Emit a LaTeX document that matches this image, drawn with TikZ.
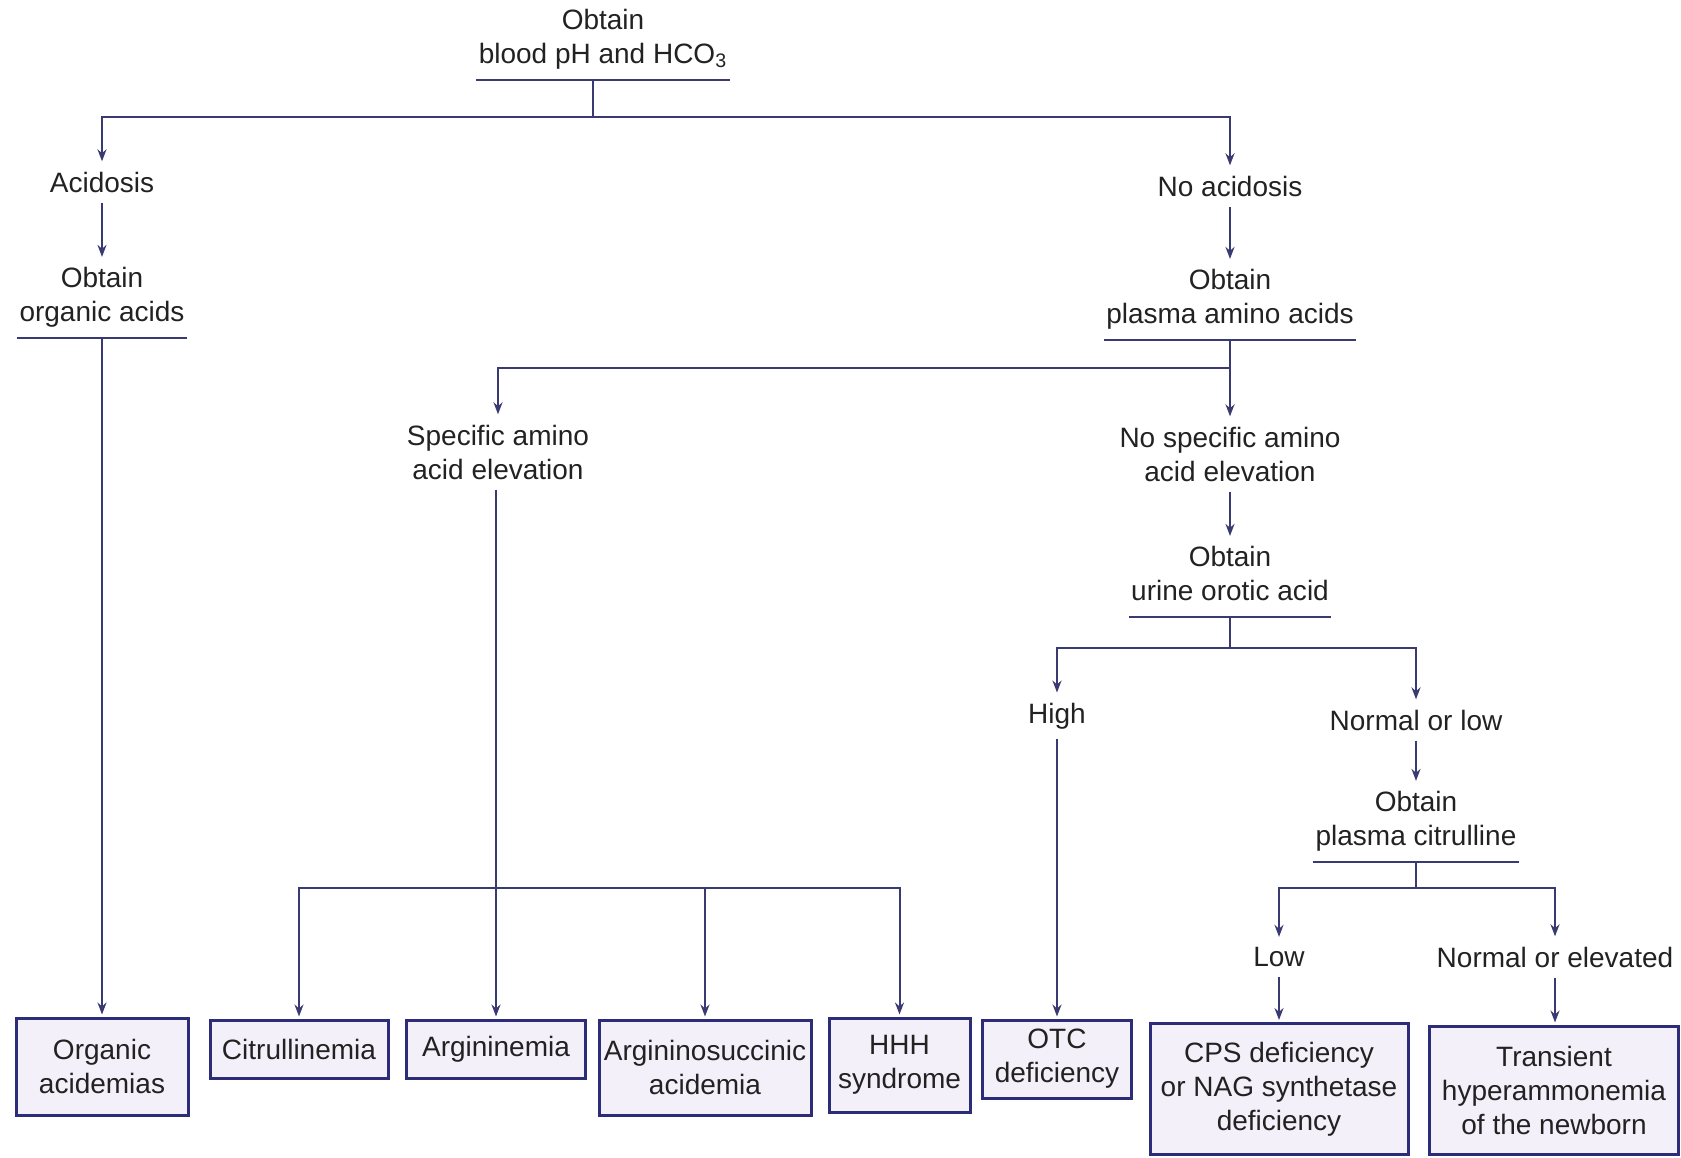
\documentclass[tikz,border=0pt]{standalone}
\usepackage{fontspec}
\setmainfont{Liberation Sans}
\usetikzlibrary{arrows.meta,calc}
\definecolor{linec}{HTML}{3A3A72}
\definecolor{boxc}{HTML}{2C2C78}
\definecolor{boxfill}{HTML}{F4F0F9}
\definecolor{txt}{HTML}{222222}
\tikzset{
  lbl/.style={font=\fontsize{14pt}{17pt}\selectfont, text=txt, align=center, inner sep=5pt},
  test/.style={lbl, anchor=south, inner xsep=1pt, inner ysep=5pt, text depth=3pt},
  ulin/.style={draw=linec, line width=1pt},
  link/.style={draw=linec, line width=1pt},
  arr/.style={link, -{Stealth[length=6pt,width=4.5pt]}},
  endbox/.style={lbl, draw=boxc, line width=1.5pt, fill=boxfill, inner sep=2pt},
}
\newcommand{\testnode}[3]{%
  \node[test] (#1) at #2 {#3};
  \draw[ulin] (#1.south west) -- (#1.south east);}
\begin{document}
\begin{tikzpicture}[x=0.5pt,y=-0.5pt]
\useasboundingbox (0,0) rectangle (1681,1157);

% question nodes with underlines
\testnode{top}{(603,80)}{Obtain\\blood pH and HCO\textsubscript{3}}
\testnode{obOA}{(102,338)}{Obtain\\organic acids}
\testnode{obPA}{(1230,340)}{Obtain\\plasma amino acids}
\testnode{obUO}{(1230,617)}{Obtain\\urine orotic acid}
\testnode{obPC}{(1416,862)}{Obtain\\plasma citrulline}

% findings
\node[lbl] (acid)  at (102,182)  {Acidosis};
\node[lbl] (noac)  at (1230,186) {No acidosis};
\node[lbl] (spec)  at (498,452)  {Specific amino\\acid elevation};
\node[lbl] (nspec) at (1230,454) {No specific amino\\acid elevation};
\node[lbl] (high)  at (1057,716) {High};
\node[lbl] (nlow)  at (1416,720) {Normal or low};
\node[lbl] (low)   at (1279,957) {Low};
\node[lbl] (nel)   at (1555,957) {Normal or elevated};

% diagnoses
\node[endbox, minimum width=86pt,  minimum height=48.5pt] (org) at (102,1066.5)  {Organic\\acidemias};
\node[endbox, minimum width=89pt,  minimum height=29pt]   (cit) at (299,1049)    {Citrullinemia};
\node[endbox, minimum width=89.5pt,minimum height=29pt]   (arg) at (496,1049)    {Argininemia};
\node[endbox, minimum width=106pt, minimum height=47.5pt] (asa) at (705,1067.5)  {Argininosuccinic\\acidemia};
\node[endbox, minimum width=70.5pt,minimum height=47pt]   (hhh) at (899.5,1065)  {HHH\\syndrome};
\node[endbox, minimum width=74.5pt,minimum height=39pt]   (otc) at (1057,1059)   {OTC\\deficiency};
\node[endbox, minimum width=129pt, minimum height=65.5pt] (cps) at (1279,1089)   {CPS deficiency\\or NAG synthetase\\deficiency};
\node[endbox, minimum width=124.5pt,minimum height=64pt]  (tra) at (1554,1090)   {Transient\\hyperammonemia\\of the newborn};

% junction points of the branching lines
\coordinate (j1) at (593,117);
\coordinate (j2) at (1230,368);
\coordinate (br) at (496,888);
\coordinate (j3) at (1230,648);
\coordinate (j4) at (1416,888);

% top split
\draw[link] (top.south -| j1) -- (j1);
\draw[arr] (j1) -| (acid.north);
\draw[arr] (j1) -| (noac.north);

% acidosis branch
\draw[arr] (acid) -- (obOA);
\draw[arr, shorten >=1pt] (obOA.south) -- (org.north);

% no acidosis branch
\draw[arr] (noac) -- (obPA);
\draw[arr] (obPA.south) -- (nspec.north);
\draw[arr] (j2) -| (spec.north);

% specific amino acid elevation
\draw[arr, shorten >=1pt] (spec.south -| arg.north) -- (arg.north);
\draw[arr, shorten >=1pt] (br) -| (cit.north);
\draw[arr, shorten >=1pt] (br) -| (asa.north);
\draw[arr, shorten >=1pt] (br) -| (hhh.north);

% no specific amino acid elevation
\draw[arr] (nspec) -- (obUO);
\draw[link] (obUO.south) -- (j3);
\draw[arr] (j3) -| (high.north);
\draw[arr] (j3) -| (nlow.north);
\draw[arr, shorten >=1pt] (high.south) -- (otc.north);

% normal or low orotic acid
\draw[arr] (nlow) -- (obPC);
\draw[link] (obPC.south) -- (j4);
\draw[arr] (j4) -| (low.north);
\draw[arr] (j4) -| (nel.north);
\draw[arr, shorten >=1pt] (low.south) -- (cps.north);
\draw[arr, shorten >=1pt] (nel.south) -- (nel.south |- tra.north);
\end{tikzpicture}
\end{document}
